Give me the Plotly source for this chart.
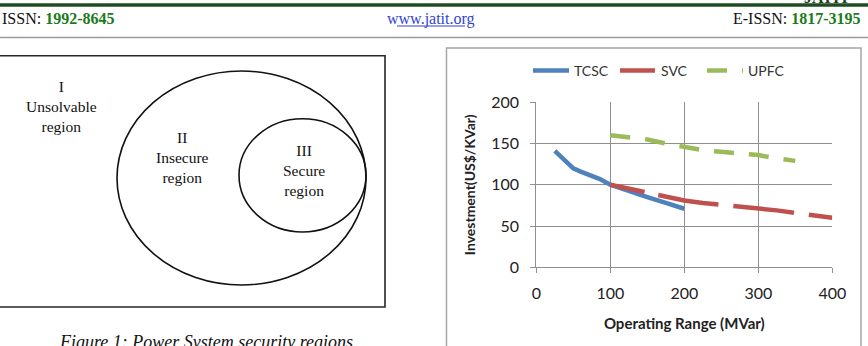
import plotly.graph_objects as go

W, H = 868, 346

# ---------------- data ----------------
series_names = ["TCSC", "SVC", "UPFC"]
tcsc_x = [25, 40, 50, 60, 75, 86, 100, 125, 150, 175, 200]
tcsc_y = [141, 128, 120, 116, 111, 107, 100, 92, 85, 78, 71]
svc_x = [100, 125, 150, 175, 200, 225, 250, 275, 300, 325, 350, 375, 400]
svc_y = [100, 95, 90, 86, 81, 78, 76, 74, 72, 69, 66, 63, 60]
upfc_x = [100, 125, 150, 175, 200, 225, 250, 275, 300, 325, 350]
upfc_y = [160, 158, 155, 150, 146, 142, 140, 138, 136, 132, 129]
x_ticks = [0, 100, 200, 300, 400]
y_ticks = [0, 50, 100, 150, 200]
region_labels = ["I<br>Unsolvable<br>region", "II<br>Insecure<br>region", "III<br>Secure<br>region"]

# ---------------- helpers ----------------
def px(x):
    return x / W

def py(y):
    return 1 - y / H

CHART_FONT = "Lato"
SERIF = "Liberation Serif"
GRID = "#8f8f8f"

fig = go.Figure()
fig.add_trace(go.Scatter(x=tcsc_x, y=tcsc_y, name=series_names[0], mode="lines",
                         line=dict(color="#4F81BD", width=4.5)))
fig.add_trace(go.Scatter(x=svc_x, y=svc_y, name=series_names[1], mode="lines",
                         line=dict(color="#C0504D", width=4.5,
                                   dash="35px,14px,61px,15px,61px,15px,40px")))
fig.add_trace(go.Scatter(x=upfc_x, y=upfc_y, name=series_names[2], mode="lines",
                         line=dict(color="#9BBB59", width=4.5, dash="20px,15px")))

fig.update_layout(
    width=W, height=H, margin=dict(l=0, r=0, t=0, b=0),
    paper_bgcolor="white", plot_bgcolor="white",
    font=dict(family=CHART_FONT, size=16, color="#222"),
    xaxis=dict(domain=[px(536.3), px(832.3)], range=[0, 400], tickvals=x_ticks,
               showgrid=True, gridcolor=GRID, gridwidth=1, zeroline=False,
               showline=True, linecolor=GRID, linewidth=1, automargin=False,
               ticks="outside", ticklen=5, tickcolor=GRID, ticklabelstandoff=6,
               title=dict(text="<b>Operating Range (MVar)</b>", font=dict(size=15, family=CHART_FONT),
                          standoff=17)),
    yaxis=dict(domain=[py(267.3), py(102.3)], range=[0, 200], tickvals=y_ticks,
               showgrid=True, gridcolor=GRID, gridwidth=1, zeroline=False,
               showline=True, linecolor=GRID, linewidth=1, automargin=False,
               ticks="outside", ticklen=5, tickcolor=GRID, ticklabelstandoff=8,
               title=dict(text="<b>Investment(US$/KVar)</b>", font=dict(size=14, family=CHART_FONT),
                          standoff=12)),
    legend=dict(orientation="h", x=px(528), xanchor="left", y=py(71), yanchor="middle",
                font=dict(size=14, family=CHART_FONT, color="#333"),
                itemwidth=36, entrywidth=36, entrywidthmode="pixels",
                bgcolor="rgba(0,0,0,0)", traceorder="normal"),
)

# ---------------- page decoration / diagram ----------------
shapes = []
shapes.append(dict(type="line", x0=px(0), x1=px(W), y0=py(5), y1=py(5),
                   line=dict(color="#1f4d22", width=3.5)))
shapes.append(dict(type="line", x0=px(0), x1=px(W), y0=py(37.5), y1=py(37.5),
                   line=dict(color="#9a9a9a", width=1.5)))
shapes.append(dict(type="line", x0=px(397), x1=px(465), y0=py(26), y1=py(26),
                   line=dict(color="#3344cc", width=1)))
shapes.append(dict(type="rect", x0=px(-3), x1=px(385), y0=py(55.7), y1=py(307),
                   line=dict(color="#262626", width=1.6)))
shapes.append(dict(type="circle", x0=px(117), x1=px(366), y0=py(71), y1=py(285),
                   line=dict(color="#111", width=1.6)))
shapes.append(dict(type="circle", x0=px(239), x1=px(366), y0=py(118.7), y1=py(232),
                   line=dict(color="#111", width=1.6)))
shapes.append(dict(type="rect", x0=px(446.5), x1=px(861), y0=py(48), y1=py(360),
                   line=dict(color="#a6a6a6", width=1.5)))
for s in shapes:
    s.update(xref="paper", yref="paper")
    fig.add_shape(**s)

ann = []
ann.append(dict(x=px(0), y=py(19), xanchor="left", yanchor="middle",
                text="ISSN: <b><span style='color:#1b7a1b'>1992-8645</span></b>",
                font=dict(family=SERIF, size=16, color="#111")))
ann.append(dict(x=px(431), y=py(19), xanchor="center", yanchor="middle",
                text="www.jatit.org", font=dict(family=SERIF, size=16, color="#3344cc")))
ann.append(dict(x=px(863), y=py(19), xanchor="right", yanchor="middle",
                text="E-ISSN: <b><span style='color:#1b7a1b'>1817-3195</span></b>",
                font=dict(family=SERIF, size=16, color="#111")))
ann.append(dict(x=px(852), y=py(7.5), xanchor="right", yanchor="bottom",
                text="<b>JATIT</b>", font=dict(family=SERIF, size=16, color="#1f3d22")))
region_pos = [(61, 106), (182, 158), (304, 170)]
for lab, (cx, cy) in zip(region_labels, region_pos):
    ann.append(dict(x=px(cx), y=py(cy), xanchor="center", yanchor="middle", text=lab,
                    font=dict(family=SERIF, size=15.5, color="#111")))
ann.append(dict(x=px(206), y=py(330), xanchor="center", yanchor="top",
                text="<i>Figure 1: Power System security regions</i>",
                font=dict(family=SERIF, size=18, color="#111")))
for a in ann:
    a.update(xref="paper", yref="paper", showarrow=False)
    fig.add_annotation(**a)

fig.write_html("out.html",
               post_script="document.body.style.margin='0';"
                           "document.documentElement.style.overflow='hidden';")
